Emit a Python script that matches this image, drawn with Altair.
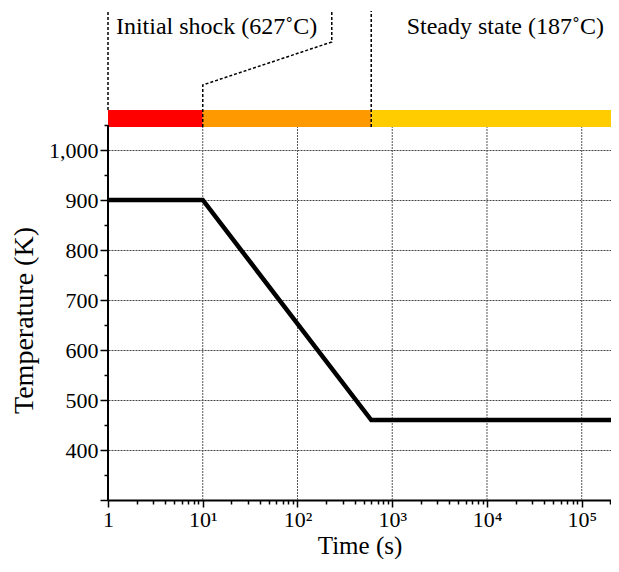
import altair as alt
import pandas as pd

# ---- data -------------------------------------------------------------
time_pts = [1, 10, 600, 203600]          # s
temp_pts = [900, 900, 460, 460]          # K

X_MIN, X_MAX = 1, 203600
Y_MIN, Y_MAX = 300, 1284
Y_AXIS_TOP = 1050
MARK_TOP = 1278

x_major = [1, 10, 100, 1000, 10000, 100000]
x_major_labels = ["1", "10¹", "10²", "10³", "10⁴", "10⁵"]
x_minor = [2, 3, 4, 5, 6, 7, 8, 9,
           20, 30, 40, 50, 60, 70, 80, 90,
           200, 300, 400, 500, 600, 700, 800, 900,
           2000, 3000, 4000, 5000, 6000, 7000, 8000, 9000,
           20000, 30000, 40000, 50000, 60000, 70000, 80000, 90000,
           200000]
x_grid = [10, 100, 1000, 10000, 100000]
y_major = [300, 400, 500, 600, 700, 800, 900, 1000]
y_minor = [350, 450, 550, 650, 750, 850, 950, 1050]

phase_start = [1, 10, 600]
phase_end = [10, 600, 203600]
phase_color = ["#FF0000", "#FF9900", "#FFCC00"]
band_low, band_high = 1046, 1080

marker_x = [1, 600]
marker_y0 = [1080, 1046]

leader_x = [10, 10, 230, 230]
leader_y = [1046, 1130, 1216, 1278]

label_text = ["Initial shock (627˚C)", "Steady state (187˚C)"]
label_x = [14, 15600]
label_y = [1232, 1232]

# ---- frames -------------------------------------------------------------
line_df = pd.DataFrame({"t": time_pts, "T": temp_pts})
band_df = pd.DataFrame({"t0": phase_start, "t1": phase_end,
                        "y0": [band_low] * 3, "y1": [band_high] * 3,
                        "c": phase_color})
xgrid_df = pd.DataFrame({"t": x_grid, "y0": [Y_MIN] * len(x_grid),
                         "y1": [band_low] * len(x_grid)})
marker_df = pd.DataFrame({"t": marker_x, "y0": marker_y0,
                          "y1": [MARK_TOP] * len(marker_x)})
leader_df = pd.DataFrame({"t": leader_x, "y": leader_y,
                          "o": list(range(len(leader_x)))})
yaxis_df = pd.DataFrame({"t": [X_MIN], "y0": [Y_MIN], "y1": [Y_AXIS_TOP]})
label_df = pd.DataFrame({"t": label_x, "y": label_y, "txt": label_text})

FONT = "Liberation Serif"
xs = alt.Scale(type="log", domain=[X_MIN, X_MAX], nice=False)
ys = alt.Scale(domain=[Y_MIN, Y_MAX], nice=False, zero=False)

label_expr = " : ".join(
    f"datum.value < {v * 3} ? '{lab}'" for v, lab in zip(x_major, x_major_labels)
) + " : ''"

xgrid = alt.Chart(xgrid_df).mark_rule(color="#555", strokeWidth=1, strokeDash=[2, 1]).encode(
    x=alt.X("t:Q", scale=xs, axis=None),
    y=alt.Y("y0:Q", scale=ys, axis=None),
    y2="y1:Q",
)

band = alt.Chart(band_df).mark_rect().encode(
    x=alt.X("t0:Q", scale=xs, axis=None), x2="t1:Q",
    y=alt.Y("y0:Q", scale=ys, axis=None), y2="y1:Q",
    color=alt.Color("c:N", scale=None),
)

markers = alt.Chart(marker_df).mark_rule(color="black", strokeWidth=1.5, strokeDash=[3, 2]).encode(
    x=alt.X("t:Q", scale=xs, axis=None),
    y=alt.Y("y0:Q", scale=ys, axis=None), y2="y1:Q",
)

leader = alt.Chart(leader_df).mark_line(color="black", strokeWidth=1.5, strokeDash=[3, 2]).encode(
    x=alt.X("t:Q", scale=xs, axis=None),
    y=alt.Y("y:Q", scale=ys, axis=None),
    order="o:Q",
)

labels = alt.Chart(label_df).mark_text(font=FONT, fontSize=24, align="center",
                                       baseline="alphabetic", color="black").encode(
    x=alt.X("t:Q", scale=xs, axis=None),
    y=alt.Y("y:Q", scale=ys, axis=None),
    text="txt:N",
)

yaxis_line = alt.Chart(yaxis_df).mark_rule(color="black", strokeWidth=2).encode(
    x=alt.X("t:Q", scale=xs, axis=None),
    y=alt.Y("y0:Q", scale=ys, axis=None), y2="y1:Q",
)

main = alt.Chart(line_df).mark_line(color="black", strokeWidth=4.5, strokeJoin="miter").encode(
    x=alt.X("t:Q", scale=xs, axis=alt.Axis(
        orient="bottom", values=x_major, labelExpr=label_expr, grid=False,
        tickSize=7, tickWidth=1.5, tickColor="black",
        domainWidth=2, domainColor="black",
        labelFont=FONT, labelFontSize=22, labelColor="black", labelPadding=2,
        labelFlush=False, labelOverlap=False,
        title="Time (s)", titleFont=FONT, titleFontSize=25, titleFontWeight="normal",
        titleColor="black", titlePadding=3)),
    y=alt.Y("T:Q", scale=ys, axis=alt.Axis(
        orient="left", values=y_major,
        labelExpr="datum.value < 350 ? '' : format(datum.value, ',')",
        grid=True, gridColor="#444", gridDash=[2, 1], gridWidth=1,
        domain=False, tickSize=8, tickWidth=1.5, tickColor="black",
        labelFont=FONT, labelFontSize=22, labelColor="black", labelPadding=2,
        labelOverlap=False,
        title="Temperature (K)", titleFont=FONT, titleFontSize=28,
        titleFontWeight="normal", titleColor="black", titleX=-70, titleY=312)),
)

minor = alt.Chart(line_df).mark_point(opacity=0).encode(
    x=alt.X("t:Q", scale=xs, axis=alt.Axis(
        orient="bottom", values=x_minor, labels=False, domain=False, grid=False,
        tickSize=4, tickWidth=1.5, tickColor="black", title=None)),
    y=alt.Y("T:Q", scale=ys, axis=alt.Axis(
        orient="left", values=y_minor, labels=False, domain=False, grid=False,
        tickSize=4, tickWidth=1.5, tickColor="black", title=None)),
)

chart = alt.layer(xgrid, band, markers, leader, labels, yaxis_line, main, minor).resolve_axis(
    x="independent", y="independent"
).properties(
    width=503, height=492,
    autosize=alt.AutoSizeParams(type="none"),
    padding={"left": 100, "top": 0, "right": 0, "bottom": 59},
    background="white",
).configure_view(stroke=None)

chart.save("out.html", embed_options={"renderer": "svg", "actions": False})
